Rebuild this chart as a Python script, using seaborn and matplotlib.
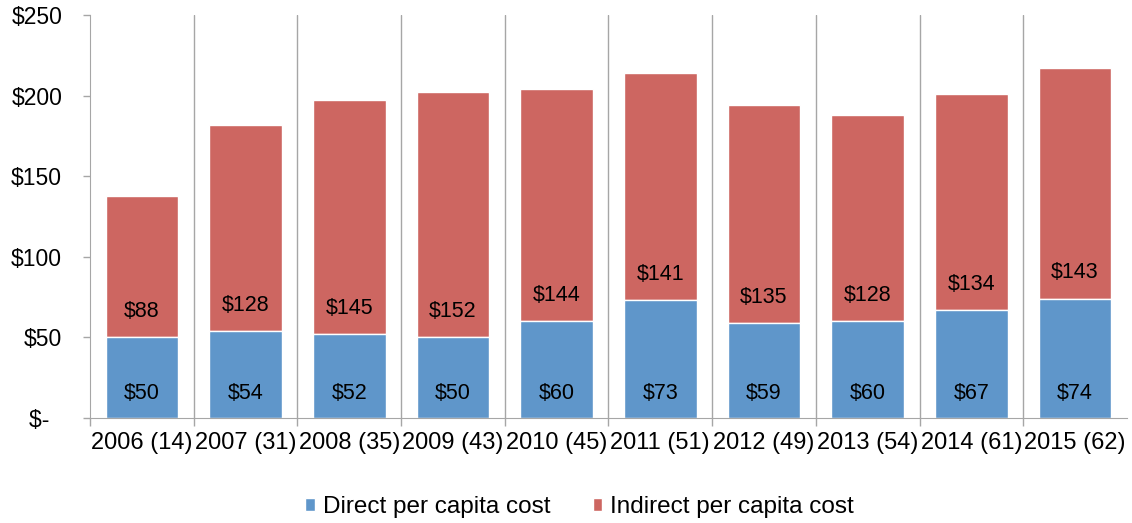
import matplotlib
matplotlib.use("Agg")
import matplotlib.pyplot as plt
from matplotlib.patches import Patch
import seaborn as sns
import pandas as pd

# data
years = ["2006 (14)", "2007 (31)", "2008 (35)", "2009 (43)", "2010 (45)",
         "2011 (51)", "2012 (49)", "2013 (54)", "2014 (61)", "2015 (62)"]
direct = [50, 54, 52, 50, 60, 73, 59, 60, 67, 74]
indirect = [88, 128, 145, 152, 144, 141, 135, 128, 134, 143]

df = pd.DataFrame({"year": years, "direct": direct, "indirect": indirect})

blue = "#5F96CA"
red = "#CD6661"
grid_gray = "#A6A6A6"

sns.set_style("white")
plt.rcParams["font.family"] = ["Liberation Sans", "DejaVu Sans"]
plt.rcParams["text.color"] = "black"
plt.rcParams["xtick.color"] = "black"
plt.rcParams["ytick.color"] = "black"

fig = plt.figure(figsize=(11.32, 5.23), dpi=100)
ax = fig.add_axes([0.0795, 0.2008, 0.916, 0.7705])

# stacked bars: indirect sits on top of direct
sns.barplot(data=df, x="year", y="indirect", bottom=df["direct"], color=red,
            width=0.7, saturation=1, edgecolor="white", linewidth=1, ax=ax)
sns.barplot(data=df, x="year", y="direct", color=blue,
            width=0.7, saturation=1, edgecolor="white", linewidth=1, ax=ax)

# value labels near the base of each segment
for i in range(len(years)):
    ax.text(i, 15, f"${direct[i]}", ha="center", va="center", fontsize=15.5)
    ax.text(i, direct[i] + 16, f"${indirect[i]}", ha="center", va="center", fontsize=15.5)

ax.set_xlim(-0.5, len(years) - 0.5)
ax.set_ylim(0, 250)
ax.set_yticks([0, 50, 100, 150, 200, 250])
ax.set_yticklabels(["$-  ", "$50", "$100", "$150", "$200", "$250"], fontsize=16.5)
ax.set_xlabel("")
ax.set_ylabel("")
ax.tick_params(axis="x", which="major", length=0, labelsize=17, pad=10)
ax.tick_params(axis="y", which="major", length=5, width=1, color=grid_gray,
               labelcolor="black", direction="out", left=True, pad=15)

# category separators + small ticks below the axis
bounds = [i + 0.5 for i in range(len(years) - 1)]
ax.set_xticks([-0.5] + bounds, minor=True)
ax.tick_params(axis="x", which="minor", length=5.5, width=1, color=grid_gray,
               direction="out", bottom=True)
for b in bounds:
    ax.axvline(b, color=grid_gray, lw=1, zorder=0)

sns.despine(ax=ax, top=True, right=True)
ax.spines["left"].set_color(grid_gray)
ax.spines["bottom"].set_color(grid_gray)

handles = [Patch(facecolor=blue, label="Direct per capita cost"),
           Patch(facecolor=red, label="Indirect per capita cost")]
fig.legend(handles=handles, loc="center", bbox_to_anchor=(0.512, 0.03), ncol=2,
           frameon=False, fontsize=17.5, handlelength=0.4, handleheight=0.4,
           handletextpad=0.33, columnspacing=1.75)

fig.savefig("out.png", dpi=100)
